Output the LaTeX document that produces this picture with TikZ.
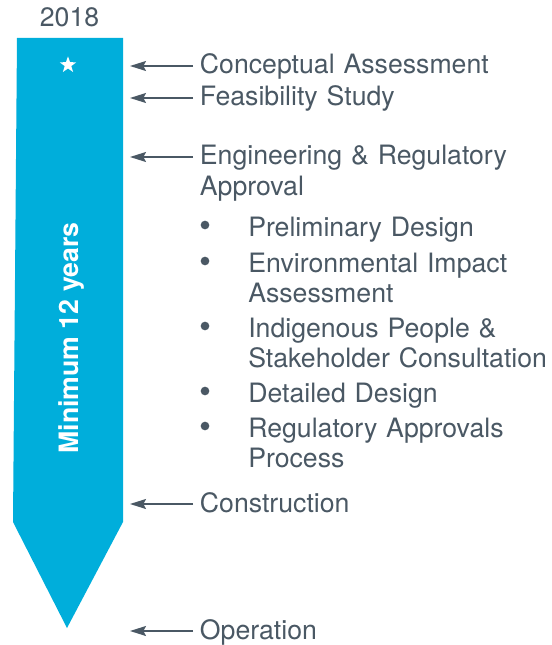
\documentclass[tikz,border=0pt]{standalone}
\usepackage{fontspec}
\setmainfont{TeX Gyre Heros}
\usetikzlibrary{shapes.geometric,arrows.meta}

\definecolor{c1}{RGB}{0,174,219}
\definecolor{c2}{RGB}{74,88,100}

\begin{document}
\fontsize{20}{23}\selectfont
\begin{tikzpicture}[x=0.75pt,y=-0.75pt,
    every node/.style={font=\fontsize{20}{23}\selectfont, text=c2},
    phase/.style={anchor=base west, inner xsep=5pt, inner ysep=0pt, text width=12cm, align=left},
    item/.style={anchor=base west, inner sep=0pt, text width=10cm, align=left},
    dot/.style={circle, fill=c2, inner sep=0pt, minimum size=6.5pt},
    tick/.style={draw=c2, line width=1.1pt, arrows={-Stealth[length=12pt,width=7.5pt,inset=2pt]}}]
      \useasboundingbox (0,0) rectangle (552,645);

      % the pencil
      \fill[c1] (17,38) -- (123,38) -- (123,522) -- (67,628) -- (13,522) -- cycle;
      \node[star, star points=5, star point ratio=2.5, fill=white, inner sep=0pt, minimum size=13pt] (s) at (68,65) {};
      \node[rotate=90, anchor=base, text=white, font=\fontsize{20}{23}\selectfont\bfseries] (m) at (78,338) {Minimum 12 years};
      \node[anchor=base] (yr) at (69.5,27) {2018};

      % phases
      \node[phase] (l1) at (193,74) {Conceptual Assessment};
      \node[phase] (l2) at (193,106) {Feasibility Study};
      \node[phase] (l3) at (193,165) {Engineering \& Regulatory\\Approval};
      \node[phase] (l4) at (193,512) {Construction};
      \node[phase] (l5) at (193,639) {Operation};

      \coordinate (p1) at (130,66);
      \coordinate (p2) at (130,98);
      \coordinate (p3) at (130,157);
      \coordinate (p4) at (130,504);
      \coordinate (p5) at (130,631);

      \draw[tick] ([yshift=6pt]l1.base west) -- (p1);
      \draw[tick] ([yshift=6pt]l2.base west) -- (p2);
      \draw[tick] ([yshift=6pt]l3.base west) -- (p3);
      \draw[tick] ([yshift=6pt]l4.base west) -- (p4);
      \draw[tick] ([yshift=6pt]l5.base west) -- (p5);

      % sub steps
      \node[dot] (d1) at (205,225) {};
      \node[item] (i1) at (248,236) {Preliminary Design};
      \node[dot] (d2) at (205,261) {};
      \node[item] (i2) at (248,272) {Environmental Impact\\Assessment};
      \node[dot] (d3) at (205,326) {};
      \node[item] (i3) at (248,337) {Indigenous People \&\\Stakeholder Consultation};
      \node[dot] (d4) at (205,391) {};
      \node[item] (i4) at (248,402) {Detailed Design};
      \node[dot] (d5) at (205,426) {};
      \node[item] (i5) at (248,437) {Regulatory Approvals\\Process};
\end{tikzpicture}
\end{document}
